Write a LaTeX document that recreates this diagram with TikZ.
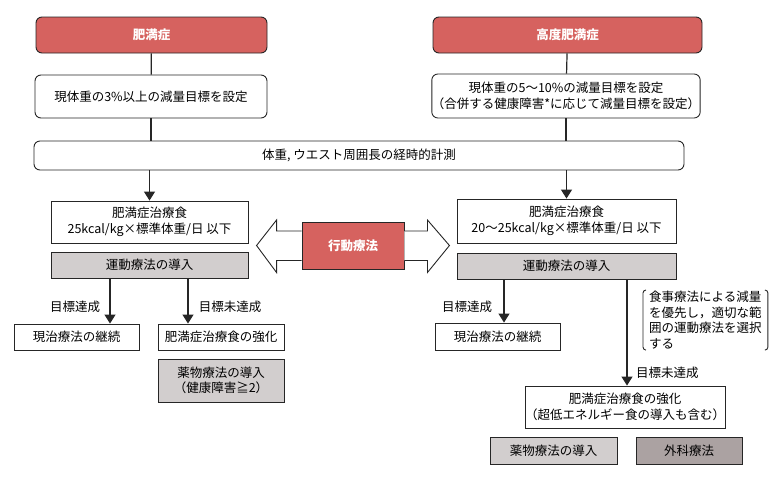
\documentclass[tikz,border=0pt]{standalone}
\usepackage{fontspec}
\setmainfont{Noto Sans CJK JP}
\usetikzlibrary{arrows.meta}

\definecolor{obred}{HTML}{D6625F}
\definecolor{exgray}{HTML}{D2CECE}
\definecolor{opgray}{HTML}{ABA2A2}

\begin{document}
\begin{tikzpicture}[x=1pt,y=-1pt,
    every node/.style={font=\fontsize{12.5}{15.5}\selectfont, inner sep=0pt},
    box/.style={draw=black!85, line width=0.9pt, fill=white, align=center},
    rbox/.style={box, rounded corners=6pt},
    redbox/.style={box, rounded corners=6pt, fill=obred, text=white, font=\fontsize{12.5}{15.5}\selectfont\bfseries},
    graybox/.style={box, fill=exgray},
    hollow/.style={draw=black!85, line width=0.9pt, fill=white, line join=miter},
    conn/.style={black!85, line width=1.2pt},
    arr/.style={conn, -{Triangle[length=9pt,width=11pt]}}]
    \useasboundingbox (0,0) rectangle (784,480);

    % top
    \node[redbox, minimum width=231pt, minimum height=36pt] (obese) at (151.5,35) {肥満症};
    \node[redbox, minimum width=269pt, minimum height=36pt] (severe) at (567.5,35) {高度肥満症};
    \node[rbox, minimum width=232pt, minimum height=43pt] (goalL) at (151,96.5) {現体重の3\%以上の減量目標を設定};
    \node[rbox, minimum width=268pt, minimum height=44pt] (goalR) at (566,96) {現体重の5～10\%の減量目標を設定\\（合併する健康障害*に応じて減量目標を設定）};
    \node[rbox, minimum width=650pt, minimum height=29pt] (measure) at (359,155.5) {体重, ウエスト周囲長の経時的計測};

    % left column
    \node[box, minimum width=197pt, minimum height=42pt] (dietL) at (149.5,222) {肥満症治療食\\25kcal/kg×標準体重/日 以下};
    \node[graybox, minimum width=197pt, minimum height=26pt] (exL) at (149.5,265) {運動療法の導入};
    \node[box, minimum width=125pt, minimum height=26pt] (contL) at (76.5,337) {現治療法の継続};
    \node[box, minimum width=126pt, minimum height=26pt] (intL) at (221,337) {肥満症治療食の強化};
    \node[graybox, minimum width=126pt, minimum height=43pt] (drugL) at (221,380.5) {薬物療法の導入\\（健康障害≧2）};

    % behaviour therapy
    \node[box, fill=obred, text=white, font=\fontsize{12.5}{15.5}\selectfont\bfseries, minimum width=102pt, minimum height=47pt] (behav) at (353,245.5) {行動療法};
    \draw[hollow] (behav.west) ++(0,-14.5) -- ++(-25,0) -- ++(0,-11) -- ++(-20,25.5) -- ++(20,27) -- ++(0,-12) -- ++(25,0);
    \draw[hollow] (behav.east) ++(0,-14.5) -- ++(23,0) -- ++(0,-11) -- ++(22,25.5) -- ++(-22,27) -- ++(0,-12) -- ++(-23,0);

    % right column
    \node[box, minimum width=219pt, minimum height=44pt] (dietR) at (566.5,221) {肥満症治療食\\20～25kcal/kg×標準体重/日 以下};
    \node[graybox, minimum width=219pt, minimum height=26pt] (exR) at (566.5,266) {運動療法の導入};
    \node[box, minimum width=125pt, minimum height=27pt] (contR) at (497.5,336.5) {現治療法の継続};
    \node[align=left, anchor=north west, inner xsep=6pt, inner ysep=1pt] (note) at (643,290) {食事療法による減量\\を優先し，適切な範\\囲の運動療法を選択\\する};
    \draw[conn, line width=0.9pt, rounded corners=3pt] ([xshift=3pt]note.north west) -- (note.north west) -- (note.south west) -- ([xshift=3pt]note.south west);
    \draw[conn, line width=0.9pt, rounded corners=3pt] ([xshift=-3pt]note.north east) -- (note.north east) -- (note.south east) -- ([xshift=-3pt]note.south east);
    \node[box, minimum width=196pt, minimum height=42pt] (intR) at (625,407) {肥満症治療食の強化\\（超低エネルギー食の導入も含む）};
    \node[graybox, minimum width=127pt, minimum height=27pt] (drugR) at (553.5,450.5) {薬物療法の導入};
    \node[box, fill=opgray, minimum width=106pt, minimum height=27pt] (surg) at (689,450.5) {外科療法};

    % connectors
    \draw[conn] (obese) -- (goalL);
    \draw[conn] (severe) -- (goalR);
    \draw[conn] (goalL.south) -- (goalL.south |- measure.north);
    \draw[conn] (goalR.south) -- (goalR.south |- measure.north);
    \draw[arr] (dietL.north |- measure.south) -- (dietL.north);
    \draw[arr] (dietR.north |- measure.south) -- (dietR.north);

    \draw[arr] ([xshift=-39.5pt]exL.south) -- ([xshift=-39.5pt]exL.south |- contL.north);
    \draw[arr] ([xshift=38.5pt]exL.south) -- ([xshift=38.5pt]exL.south |- intL.north);
    \draw[arr] ([xshift=-62.5pt]exR.south) -- ([xshift=-62.5pt]exR.south |- contR.north);
    \draw[arr] ([xshift=60.5pt]exR.south) -- ([xshift=60.5pt]exR.south |- intR.north);

    \node (reachL) at (75,307) {目標達成};
    \node (missL) at (230,307) {目標未達成};
    \node (reachR) at (467,307) {目標達成};
    \node[anchor=west] (missR) at (636,373) {目標未達成};
\end{tikzpicture}
\end{document}
